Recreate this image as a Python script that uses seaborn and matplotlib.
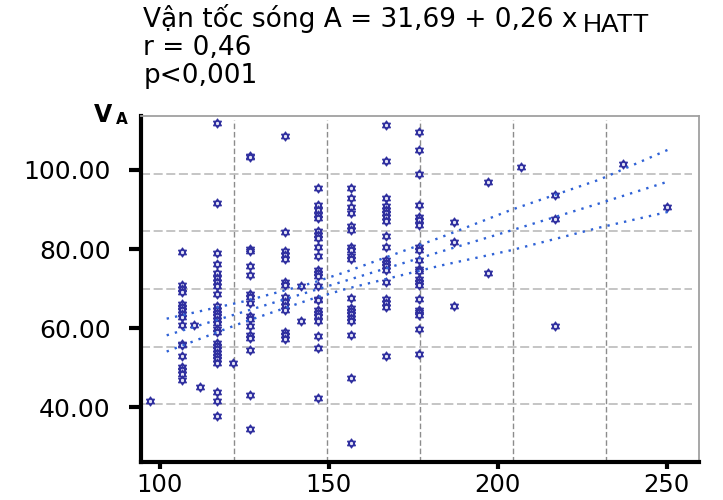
import numpy as np
import pandas as pd
import matplotlib
matplotlib.use("Agg")
import matplotlib.pyplot as plt
import seaborn as sns
from matplotlib.path import Path
from matplotlib.markers import MarkerStyle

# Values (HATT columns and wave velocity A)
hatt_cols = [97, 106.5, 110, 112, 117, 121.5, 126.7, 137, 141.7, 146.8,
             156.5, 167, 176.6, 187, 197, 207, 216.8, 237, 250]
va_cols = [
    [41.5],
    [79.3, 70.9, 70.0, 69.1, 66.2, 65.3, 64.5, 63.7, 62.9, 60.7, 56.1, 55.7,
     53.1, 50.2, 49.4, 48.5, 46.9],
    [60.7],
    [45.2],
    [111.8, 91.6, 79.0, 76.3, 74.0, 72.7, 71.7, 70.6, 68.7, 65.6, 64.7, 63.9,
     63.1, 62.1, 61.4, 59.7, 59.0, 56.3, 55.5, 54.7, 53.8, 53.0, 52.1, 51.1,
     43.8, 41.5, 37.7],
    [51.1],
    [103.4, 103.2, 79.9, 79.5, 75.8, 73.4, 68.7, 67.8, 66.4, 63.1, 62.2, 60.5,
     58.4, 57.6, 54.5, 43.2, 34.5],
    [108.6, 84.3, 79.4, 78.6, 77.6, 71.6, 71.0, 67.8, 66.6, 65.6, 64.5, 59.0,
     58.2, 57.2],
    [70.6, 61.8],
    [95.4, 91.2, 89.9, 88.7, 87.8, 84.5, 83.6, 82.9, 80.5, 78.2, 74.8, 74.0,
     73.1, 70.6, 67.5, 67.0, 64.7, 63.9, 63.1, 61.8, 58.0, 55.1, 42.3],
    [95.4, 92.9, 90.5, 89.1, 85.7, 84.9, 80.5, 79.7, 78.2, 77.5, 67.7, 65.2,
     64.3, 63.5, 62.6, 61.8, 58.4, 47.4, 30.9],
    [111.3, 102.3, 92.9, 90.8, 89.9, 89.1, 88.1, 87.2, 83.4, 80.5, 77.3, 76.5,
     75.6, 74.8, 71.6, 67.3, 66.4, 65.4, 53.1],
    [109.5, 105.0, 99.0, 91.2, 88.2, 87.4, 86.1, 80.5, 79.8, 77.3, 75.0, 74.4,
     72.5, 71.6, 70.8, 67.3, 64.7, 64.1, 63.3, 59.9, 53.4],
    [86.8, 81.8, 65.6],
    [96.9, 74.0],
    [100.7],
    [93.7, 87.7, 60.6],
    [101.4],
    [90.6],
]

# fitted line and 95% band, read at a few x positions
fit_x = [102, 125, 145, 155, 183, 204, 230, 251]
fit_mid = [58.2, 64.2, 69.4, 72.0, 79.3, 84.7, 91.5, 97.2]
fit_hi = [62.4, 66.8, 71.4, 74.2, 82.9, 89.9, 97.5, 105.3]
fit_lo = [54.1, 61.6, 67.4, 69.9, 75.8, 79.7, 85.4, 89.5]

x_ticks = [100, 150, 200, 250]
y_ticks = [40, 60, 80, 100]
y_ticklabels = ["40.00", "60.00", "80.00", "100.00"]

title_lines = ["Vận tốc sóng A = 31,69 + 0,26 x", "r = 0,46", "p<0,001"]

df = pd.DataFrame({
    "HATT": [x for x, ys in zip(hatt_cols, va_cols) for _ in ys],
    "VA": [y for ys in va_cols for y in ys],
})

sns.set_style("white")
plt.rcParams["font.family"] = ["DejaVu Sans"]
plt.rcParams["text.color"] = "black"
plt.rcParams["xtick.color"] = "black"
plt.rcParams["ytick.color"] = "black"
plt.rcParams["xtick.labelcolor"] = "black"
plt.rcParams["ytick.labelcolor"] = "black"

XLIM = (94.4, 259.6)
YLIM = (26.2, 113.6)

fig = plt.figure(figsize=(7.23, 5.0), dpi=100)
ax = fig.add_axes([0.195, 0.076, 0.772, 0.692])
ax.set_xlim(*XLIM)
ax.set_ylim(*YLIM)

# SPSS style grid: 6 equal divisions of the frame
for gx in np.linspace(XLIM[0], XLIM[1], 7)[1:-1]:
    ax.axvline(gx, ymax=0.988, color="#8c8c8c", lw=1.0, ls=(0, (4, 2)), zorder=0)
for gy in np.linspace(YLIM[0], YLIM[1], 7)[1:-1]:
    ax.axhline(gy, xmax=0.987, color="#c0c0c0", lw=1.3, ls=(0, (5, 2)), zorder=0)

# hexagram marker (two triangles)
s3 = np.sqrt(3) / 2
verts = [(0, 1), (-s3, -0.5), (s3, -0.5), (0, 1),
         (0, -1), (s3, 0.5), (-s3, 0.5), (0, -1)]
codes = [Path.MOVETO, Path.LINETO, Path.LINETO, Path.CLOSEPOLY] * 2
star = MarkerStyle(Path(verts, codes))

sns.scatterplot(data=df, x="HATT", y="VA", ax=ax, marker=star, s=42,
                color="#e2e2f4", edgecolor="#2f2f9f", linewidth=0.9, zorder=3)

for yy in (fit_hi, fit_mid, fit_lo):
    sns.lineplot(x=fit_x, y=yy, ax=ax, color="#2f62d6", lw=1.7,
                 linestyle=(0, (1, 2.6)), estimator=None, sort=False, zorder=4)

ax.set_xticks(x_ticks)
ax.set_yticks(y_ticks)
ax.set_yticklabels(y_ticklabels)
ax.set_xlabel("")
ax.set_ylabel("")
ax.tick_params(axis="y", direction="out", length=9, width=3, pad=13,
               labelsize=18, left=True)
ax.tick_params(axis="x", direction="out", length=5, width=3, pad=3,
               labelsize=17.5, bottom=True)

for side in ("left", "bottom"):
    ax.spines[side].set_color("black")
    ax.spines[side].set_linewidth(3)
for side in ("top", "right"):
    ax.spines[side].set_color("#a0a0a0")
    ax.spines[side].set_linewidth(1.3)

# axis name in the top left corner
fig.text(0.130, 0.756, "V", fontsize=17, fontweight="bold", va="baseline")
fig.text(0.161, 0.751, "A", fontsize=11, fontweight="bold", va="baseline")

# equation block
t1 = fig.text(0.198, 0.946, title_lines[0], fontsize=19, va="baseline")
fig.text(0.198, 0.890, title_lines[1], fontsize=19, va="baseline")
fig.text(0.198, 0.834, title_lines[2], fontsize=19, va="baseline")

fig.canvas.draw()
bb = t1.get_window_extent()
fig.text((bb.x1 + 5) / fig.bbox.width, 0.936, "HATT", fontsize=19,
         family=["Liberation Sans", "DejaVu Sans"], va="baseline")

fig.savefig("out.png", dpi=100)
plt.close()
